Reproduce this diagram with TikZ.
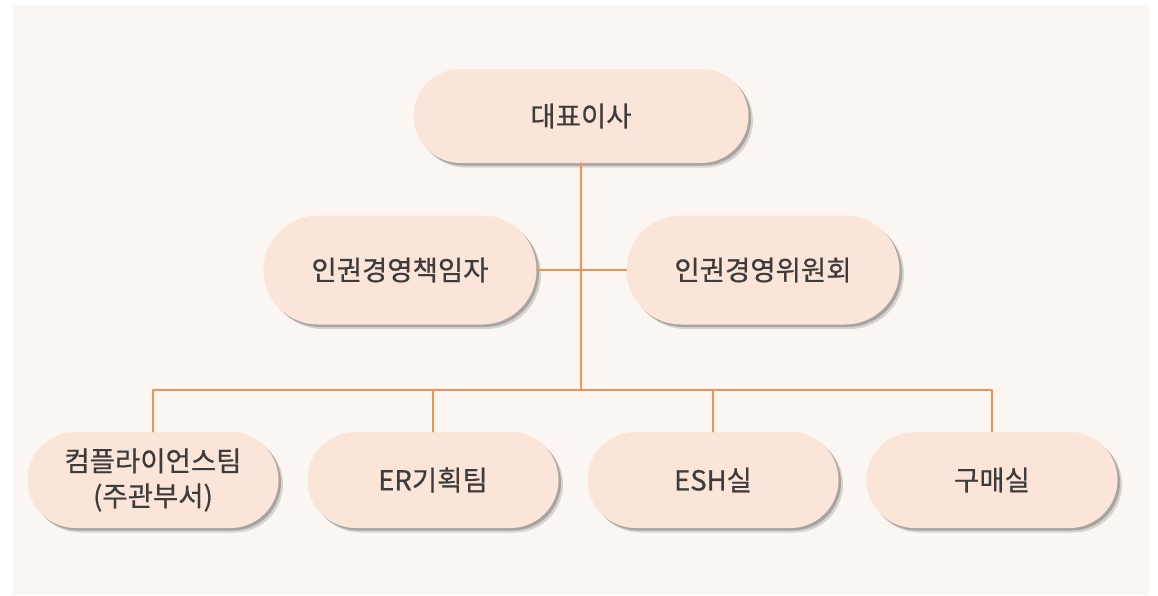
\documentclass[tikz,border=0pt]{standalone}
\usepackage{fontspec}
\setmainfont{Noto Sans CJK KR}[FakeBold=0.6]
\usetikzlibrary{positioning}
\usetikzlibrary{shadows}
\usetikzlibrary{shapes.misc}
\definecolor{panelbg}{HTML}{FBF6F2}
\definecolor{boxfill}{HTML}{FBE5D8}
\definecolor{linkline}{HTML}{F39150}
\definecolor{boxtext}{HTML}{3C3C3C}

\begin{document}
\begin{tikzpicture}[x=1pt,y=-1pt,line cap=round,line join=round,
  box/.style={rounded rectangle,fill=boxfill,text=boxtext,align=center,inner sep=0pt,
    font=\fontsize{27.5}{35}\selectfont,
    drop shadow={shadow xshift=4.5pt,shadow yshift=-4.5pt,fill=black,opacity=.14},
    drop shadow={shadow xshift=2.5pt,shadow yshift=-2.5pt,fill=black,opacity=.22}},
  link/.style={color=linkline,line width=1.6pt}]
\useasboundingbox (0,0) rectangle (1158,595);
\fill[panelbg] (13,5) rectangle (1149,595);
% top and middle
\node[box,minimum width=335pt,minimum height=94pt] (ceo) at (581,116) {대표이사};
\node[box,minimum width=273pt,minimum height=109pt] (officer) at (400,270) {인권경영책임자};
\node[box,minimum width=273pt,minimum height=109pt] (committee) at (763,270) {인권경영위원회};
% bottom row
\foreach \n/\x/\t in {team/153/{컴플라이언스팀\\(주관부서)},er/433/ER기획팀,esh/713/ESH실,buy/992/구매실}
  \node[box,minimum width=251pt,minimum height=96pt] (\n) at (\x,480) {\t};
\coordinate (hub) at (581,390);
\draw[link] (ceo.south) -- (hub);
\draw[link] (officer.east) -- (committee.west);
\draw[link] (team.north) |- (hub) -| (buy.north);
\foreach \n in {er,esh}
  \draw[link] (\n.north) -- (\n.north |- hub);
\end{tikzpicture}
\end{document}
